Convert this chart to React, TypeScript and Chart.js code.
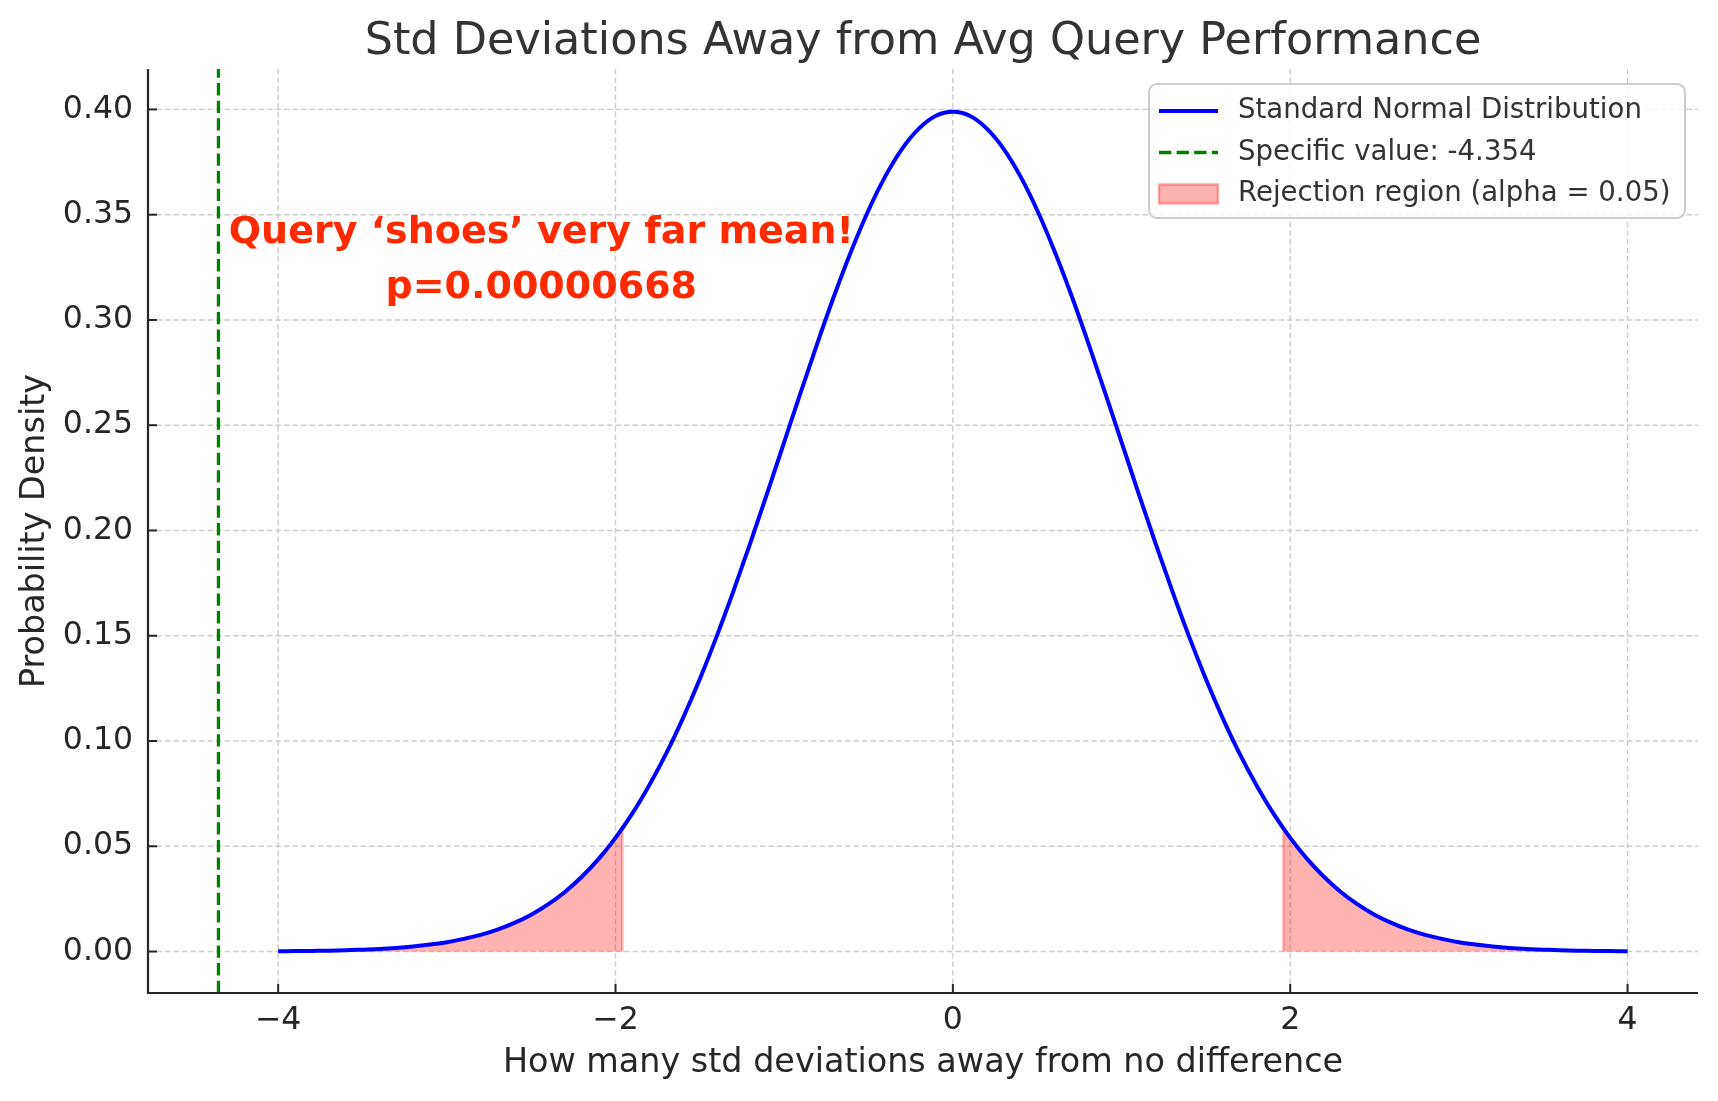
import React, { useEffect, useRef } from "react";
import { Chart, registerables } from "chart.js";

Chart.register(...registerables);

const TITLE = "Std Deviations Away from Avg Query Performance";
const X_LABEL = "How many std deviations away from no difference";
const Y_LABEL = "Probability Density";
const SERIES_LABELS = [
  "Standard Normal Distribution",
  "Specific value: -4.354",
  "Rejection region (alpha = 0.05)",
];
const ANNOTATION_LINES = ["Query \u2018shoes\u2019 very far mean!", "p=0.00000668"];
const ANNOTATION_X = -2.44;
const ANNOTATION_Y = [0.3414, 0.315];

const zValues = [
  -4.0, -3.9, -3.8, -3.7, -3.6, -3.5, -3.4, -3.3, -3.2, -3.1,
  -3.0, -2.9, -2.8, -2.7, -2.6, -2.5, -2.4, -2.3, -2.2, -2.1,
  -2.0, -1.9, -1.8, -1.7, -1.6, -1.5, -1.4, -1.3, -1.2, -1.1,
  -1.0, -0.9, -0.8, -0.7, -0.6, -0.5, -0.4, -0.3, -0.2, -0.1,
  0.0,
  0.1, 0.2, 0.3, 0.4, 0.5, 0.6, 0.7, 0.8, 0.9, 1.0,
  1.1, 1.2, 1.3, 1.4, 1.5, 1.6, 1.7, 1.8, 1.9, 2.0,
  2.1, 2.2, 2.3, 2.4, 2.5, 2.6, 2.7, 2.8, 2.9, 3.0,
  3.1, 3.2, 3.3, 3.4, 3.5, 3.6, 3.7, 3.8, 3.9, 4.0,
];

const densities = [
  0.0001, 0.0002, 0.0003, 0.0004, 0.0006, 0.0009, 0.0012, 0.0017, 0.0024, 0.0033,
  0.0044, 0.006, 0.0079, 0.0104, 0.0136, 0.0175, 0.0224, 0.0283, 0.0355, 0.044,
  0.054, 0.0656, 0.079, 0.094, 0.1109, 0.1295, 0.1497, 0.1714, 0.1942, 0.2179,
  0.242, 0.2661, 0.2897, 0.3123, 0.3332, 0.3521, 0.3683, 0.3814, 0.391, 0.397,
  0.3989,
  0.397, 0.391, 0.3814, 0.3683, 0.3521, 0.3332, 0.3123, 0.2897, 0.2661, 0.242,
  0.2179, 0.1942, 0.1714, 0.1497, 0.1295, 0.1109, 0.094, 0.079, 0.0656, 0.054,
  0.044, 0.0355, 0.0283, 0.0224, 0.0175, 0.0136, 0.0104, 0.0079, 0.006, 0.0044,
  0.0033, 0.0024, 0.0017, 0.0012, 0.0009, 0.0006, 0.0004, 0.0003, 0.0002, 0.0001,
];

const specificValue = -4.354;
const criticalZ = 1.96;
const criticalDensity = 0.0584;

const xTicks = [-4, -2, 0, 2, 4];
const yTicks = [0, 0.05, 0.1, 0.15, 0.2, 0.25, 0.3, 0.35, 0.4];
const xRange = [-4.7717, 4.4177];
const yRange = [-0.0197, 0.4192];

const BLUE = "#0000ff";
const GREEN = "#008000";
const FILL = "rgba(255,0,0,0.3)";
const TEXT = "#262626";
const FONT = "'DejaVu Sans', sans-serif";

const curve = zValues.map((z, i) => ({ x: z, y: densities[i] }));
const leftTail = [
  ...curve.filter((p) => p.x <= -criticalZ),
  { x: -criticalZ, y: criticalDensity },
  { x: -criticalZ, y: 0 },
];
const rightTail = [
  { x: criticalZ, y: 0 },
  { x: criticalZ, y: criticalDensity },
  ...curve.filter((p) => p.x >= criticalZ),
];
const specificLine = [
  { x: specificValue, y: yRange[0] },
  { x: specificValue, y: yRange[1] },
];

const decor = {
  id: "decor",
  beforeDatasetsDraw(chart: any) {
    const { ctx, chartArea: a, scales } = chart;
    const x = scales.x;
    const y = scales.y;
    ctx.save();
    ctx.strokeStyle = "#cccccc";
    ctx.lineWidth = 1.4;
    ctx.setLineDash([5.5, 3]);
    for (const v of xTicks) {
      const px = x.getPixelForValue(v);
      ctx.beginPath();
      ctx.moveTo(px, a.top);
      ctx.lineTo(px, a.bottom);
      ctx.stroke();
    }
    for (const v of yTicks) {
      const py = y.getPixelForValue(v);
      ctx.beginPath();
      ctx.moveTo(a.left, py);
      ctx.lineTo(a.right, py);
      ctx.stroke();
    }
    ctx.restore();
  },
  afterDatasetsDraw(chart: any) {
    const { ctx, scales } = chart;
    ctx.save();
    ctx.fillStyle = "#ff2a00";
    ctx.font = `bold 38px ${FONT}`;
    ctx.textAlign = "center";
    ctx.textBaseline = "middle";
    const px = scales.x.getPixelForValue(ANNOTATION_X);
    ANNOTATION_LINES.forEach((t, i) => {
      ctx.fillText(t, px, scales.y.getPixelForValue(ANNOTATION_Y[i]));
    });
    ctx.restore();
  },
  afterDraw(chart: any) {
    const { ctx, chartArea: a, scales } = chart;
    const x = scales.x;
    const y = scales.y;
    ctx.save();
    // spines
    ctx.strokeStyle = TEXT;
    ctx.lineWidth = 2.2;
    ctx.setLineDash([]);
    ctx.beginPath();
    ctx.moveTo(a.left, a.top);
    ctx.lineTo(a.left, a.bottom);
    ctx.lineTo(a.right, a.bottom);
    ctx.stroke();
    // inward ticks
    ctx.lineWidth = 2;
    for (const v of xTicks) {
      const px = x.getPixelForValue(v);
      ctx.beginPath();
      ctx.moveTo(px, a.bottom);
      ctx.lineTo(px, a.bottom - 9);
      ctx.stroke();
    }
    for (const v of yTicks) {
      const py = y.getPixelForValue(v);
      ctx.beginPath();
      ctx.moveTo(a.left, py);
      ctx.lineTo(a.left + 9, py);
      ctx.stroke();
    }
    // title
    const cx = (a.left + a.right) / 2;
    ctx.fillStyle = "#333333";
    ctx.textAlign = "center";
    ctx.textBaseline = "middle";
    ctx.font = `44.5px ${FONT}`;
    ctx.fillText(TITLE, cx, 42.5);
    // axis titles
    ctx.fillStyle = TEXT;
    ctx.font = `33.4px ${FONT}`;
    ctx.fillText(X_LABEL, cx, 1063);
    ctx.save();
    ctx.translate(35, (a.top + a.bottom) / 2);
    ctx.rotate(-Math.PI / 2);
    ctx.fillText(Y_LABEL, 0, 0);
    ctx.restore();
    // legend
    const lw = 536;
    const lh = 134;
    const lx = a.right - 13 - lw;
    const ly = a.top + 15;
    ctx.beginPath();
    ctx.roundRect(lx, ly, lw, lh, 8);
    ctx.fillStyle = "rgba(255,255,255,0.8)";
    ctx.fill();
    ctx.strokeStyle = "#cccccc";
    ctx.lineWidth = 2;
    ctx.stroke();
    const rows = [ly + 27, ly + 68.5, ly + 110];
    const hx0 = lx + 10;
    const hx1 = lx + 69;
    // row 1
    ctx.strokeStyle = BLUE;
    ctx.lineWidth = 4;
    ctx.beginPath();
    ctx.moveTo(hx0, rows[0]);
    ctx.lineTo(hx1, rows[0]);
    ctx.stroke();
    // row 2
    ctx.strokeStyle = GREEN;
    ctx.lineWidth = 3.3;
    ctx.setLineDash([12.3, 5.3]);
    ctx.beginPath();
    ctx.moveTo(hx0, rows[1]);
    ctx.lineTo(hx1, rows[1]);
    ctx.stroke();
    ctx.setLineDash([]);
    // row 3
    ctx.fillStyle = FILL;
    ctx.strokeStyle = FILL;
    ctx.lineWidth = 2.5;
    ctx.beginPath();
    ctx.rect(hx0, rows[2] - 9.5, hx1 - hx0, 19);
    ctx.fill();
    ctx.stroke();
    ctx.fillStyle = "#333333";
    ctx.font = `27.6px ${FONT}`;
    ctx.textAlign = "left";
    ctx.textBaseline = "middle";
    SERIES_LABELS.forEach((t, i) => ctx.fillText(t, lx + 89, rows[i]));
    ctx.restore();
  },
};

export default function App() {
  const ref = useRef<HTMLCanvasElement>(null);
  useEffect(() => {
    const canvas = ref.current as HTMLCanvasElement;
    const chart = new Chart(canvas, {
      type: "line",
      data: {
        datasets: [
          {
            label: SERIES_LABELS[0],
            data: curve,
            borderColor: BLUE,
            borderWidth: 4,
            pointRadius: 0,
            fill: false,
            cubicInterpolationMode: "monotone",
          },
          {
            label: SERIES_LABELS[1],
            data: specificLine,
            borderColor: GREEN,
            borderWidth: 3.3,
            borderDash: [12.3, 5.3],
            pointRadius: 0,
            fill: false,
          },
          {
            label: SERIES_LABELS[2],
            data: leftTail,
            borderColor: FILL,
            backgroundColor: FILL,
            borderWidth: 2.5,
            pointRadius: 0,
            tension: 0,
            fill: { value: 0 },
          },
          {
            label: SERIES_LABELS[2] + " (right)",
            data: rightTail,
            borderColor: FILL,
            backgroundColor: FILL,
            borderWidth: 2.5,
            pointRadius: 0,
            tension: 0,
            fill: { value: 0 },
          },
        ],
      } as any,
      options: {
        animation: false,
        responsive: false,
        devicePixelRatio: 1,
        layout: { padding: { left: 0, top: 69, right: 20, bottom: 0 } },
        plugins: {
          legend: { display: false },
          title: { display: false },
          tooltip: { enabled: false },
        },
        scales: {
          x: {
            type: "linear",
            min: xRange[0],
            max: xRange[1],
            grid: { display: false, drawTicks: false },
            border: { display: false },
            afterBuildTicks: (s: any) => {
              s.ticks = xTicks.map((v) => ({ value: v }));
            },
            afterFit: (s: any) => {
              s.height = 108;
            },
            ticks: {
              autoSkip: false,
              maxRotation: 0,
              padding: 9,
              color: TEXT,
              font: { family: FONT, size: 31.5 },
              callback: (v: any) => (Number(v) < 0 ? "\u2212" + Math.abs(Number(v)) : String(v)),
            },
          },
          y: {
            type: "linear",
            min: yRange[0],
            max: yRange[1],
            grid: { display: false, drawTicks: false },
            border: { display: false },
            afterBuildTicks: (s: any) => {
              s.ticks = yTicks.map((v) => ({ value: v }));
            },
            afterFit: (s: any) => {
              s.width = 148;
            },
            ticks: {
              autoSkip: false,
              padding: 15,
              color: TEXT,
              font: { family: FONT, size: 31.5 },
              callback: (v: any) => Number(v).toFixed(2),
            },
          },
        },
      } as any,
      plugins: [decor],
    });
    return () => chart.destroy();
  }, []);
  return (
    <div style={{ position: "absolute", left: 0, top: 0, width: 1718, height: 1101, background: "#ffffff" }}>
      <canvas ref={ref} width={1718} height={1101} style={{ display: "block", width: 1718, height: 1101 }} />
    </div>
  );
}
